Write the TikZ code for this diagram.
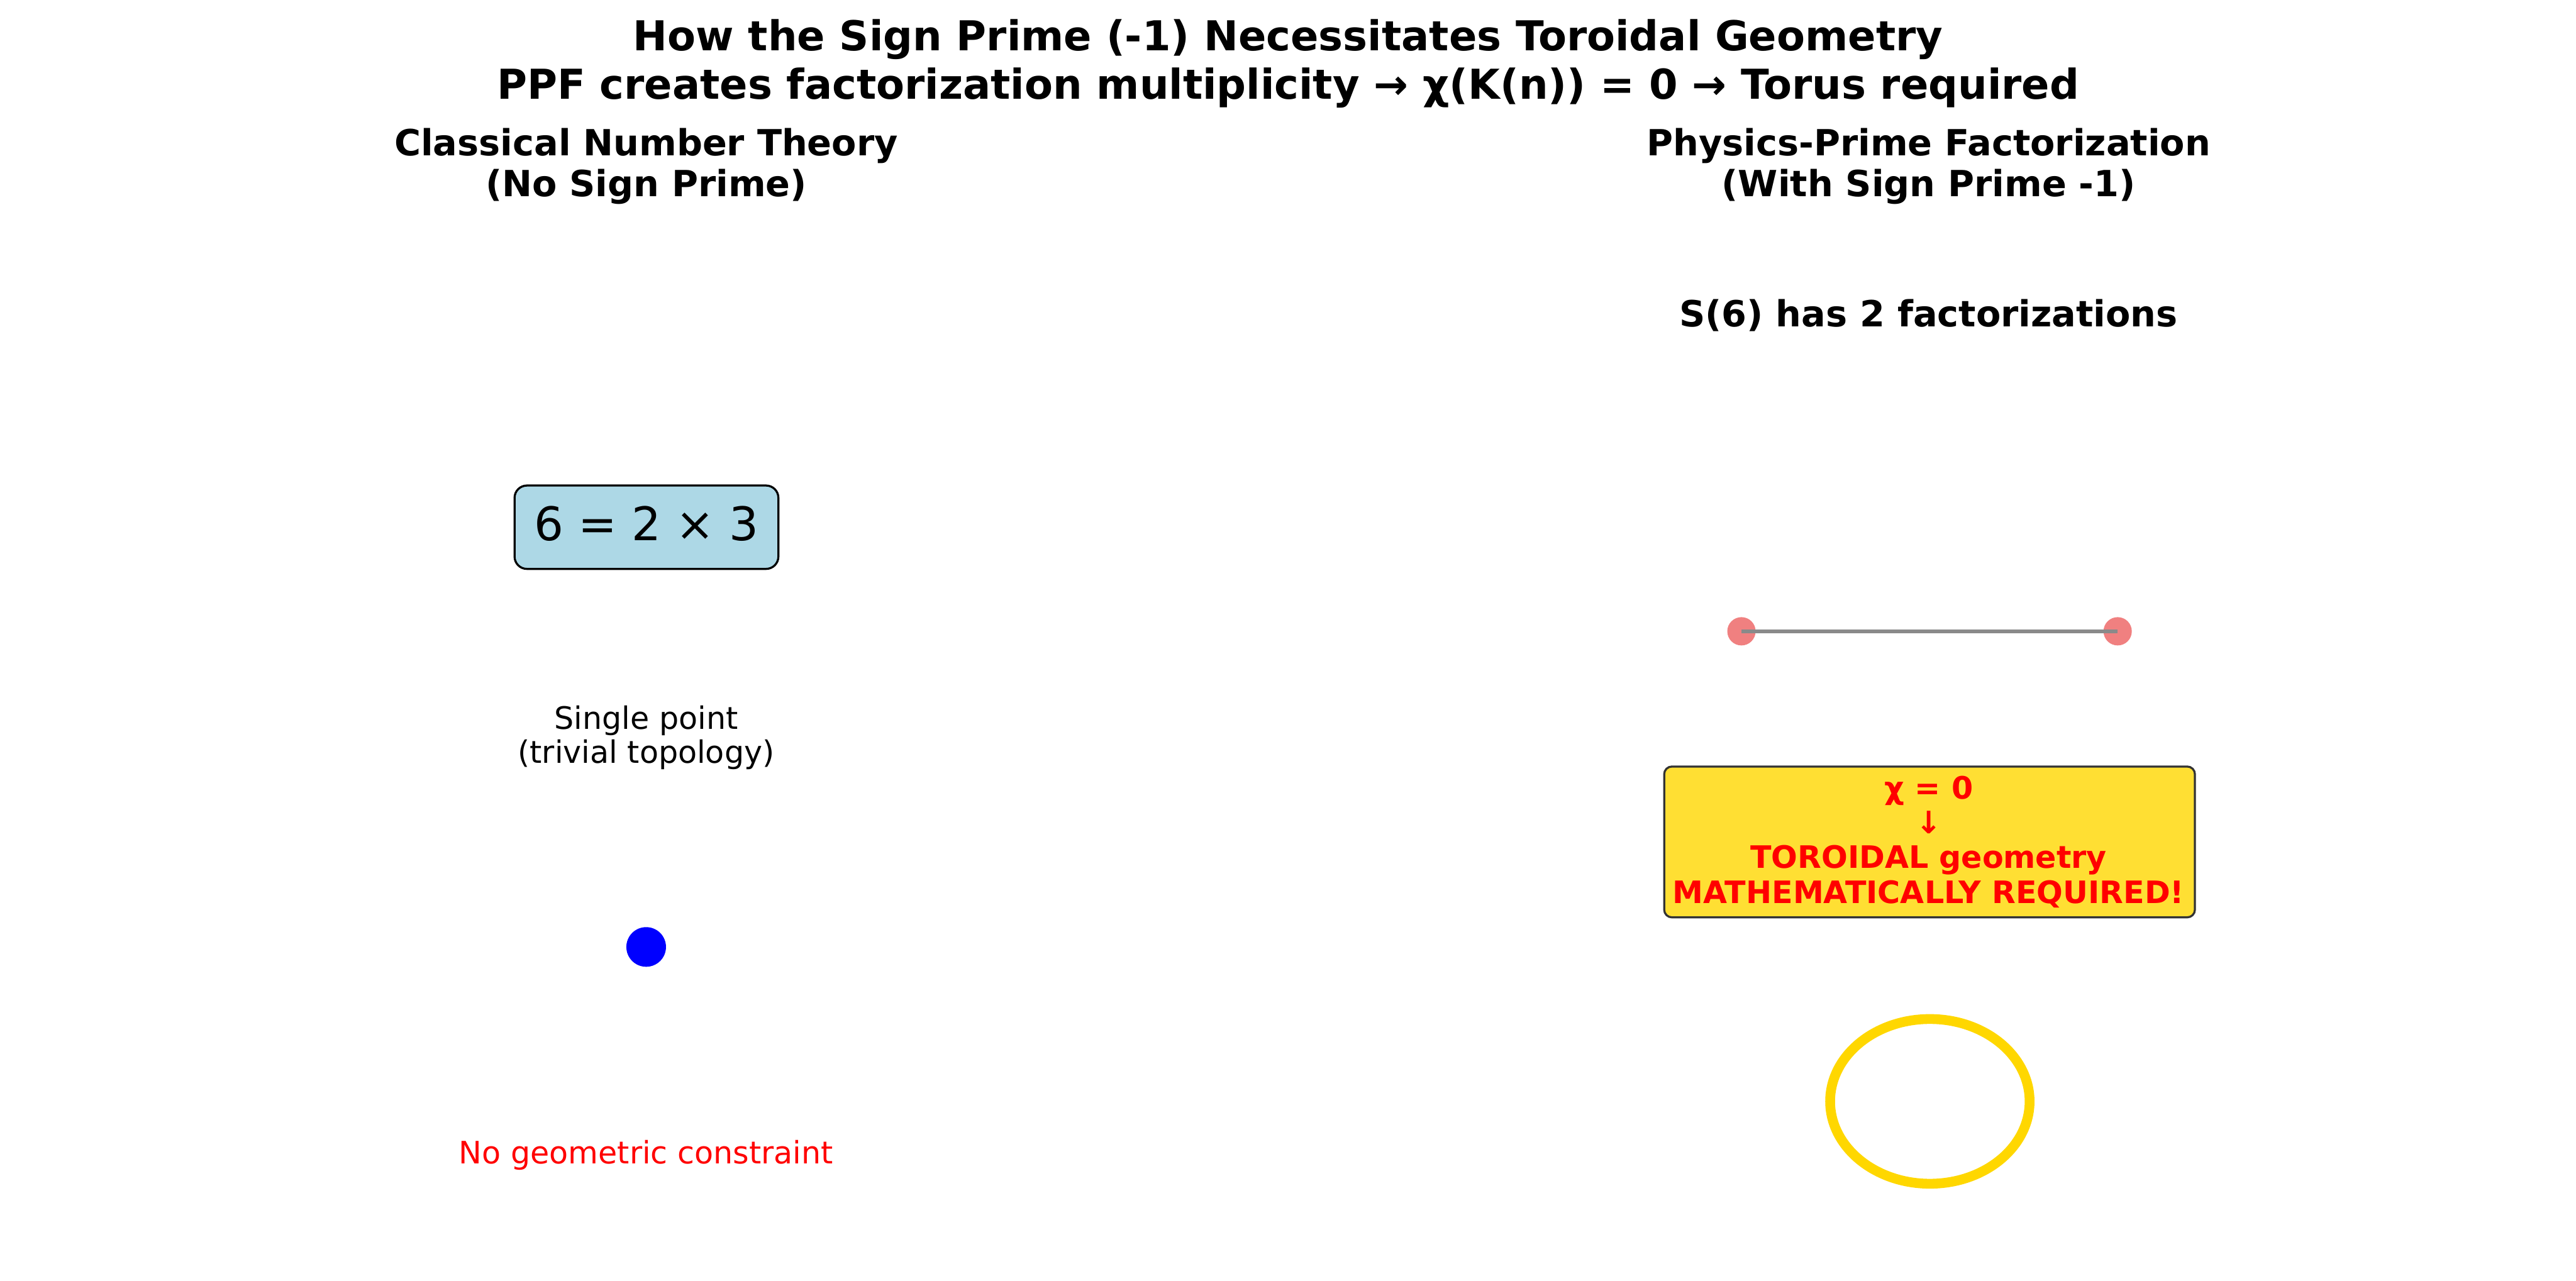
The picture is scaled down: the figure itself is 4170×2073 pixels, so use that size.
\documentclass[tikz,border=0pt]{standalone}
\usepackage{fontspec}
\usetikzlibrary{shapes.geometric}
\setmainfont{DejaVu Sans}
\definecolor{lblue}{HTML}{ADD8E6}
\definecolor{yfill}{HTML}{FFDF33}
\definecolor{yedge}{HTML}{333333}
\definecolor{lcoral}{HTML}{F08080}
\definecolor{lgray}{HTML}{8A8A8A}
\definecolor{gold}{HTML}{FFD700}
\begin{document}
\begin{tikzpicture}[x=0.24pt,y=-0.24pt,
  txt/.style={inner sep=0pt,anchor=base},
  ttl/.style={txt,font=\fontsize{16}{19}\selectfont\bfseries},
  sub/.style={txt,font=\fontsize{14}{17}\selectfont\bfseries},
  lbl/.style={txt,font=\fontsize{12}{14}\selectfont},
  warn/.style={txt,text=red,font=\fontsize{12}{14}\selectfont\bfseries}]
\useasboundingbox (0,0) rectangle (4170,2073);
% titles
\node[ttl] (t1) at (2085,82) {How the Sign Prime (-1) Necessitates Toroidal Geometry};
\node[ttl] (t2) at (2085,160) {PPF creates factorization multiplicity → χ(K(n)) = 0 → Torus required};
% left panel
\node[sub] (l1) at (1046,252) {Classical Number Theory};
\node[sub] (l2) at (1046,318) {(No Sign Prime)};
\node[draw=black,line width=0.8pt,fill=lblue,rounded corners=4.8pt,
      minimum width=102.5pt,minimum height=32.4pt,inner sep=0pt] (eq) at (1046.5,853.5) {};
\node[txt,font=\fontsize{18}{22}\selectfont] (eqt) at (1046.5,875) {6 = 2 × 3};
\node[lbl] (sp1) at (1046,1180) {Single point};
\node[lbl] (sp2) at (1046,1235) {(trivial topology)};
\node[circle,fill=blue,minimum size=15.4pt,inner sep=0pt] (pt) at (1046,1533) {};
\node[lbl,text=red] (ngc) at (1046,1884) {No geometric constraint};
% right panel
\node[sub] (r1) at (3122,252) {Physics-Prime Factorization};
\node[sub] (r2) at (3122,318) {(With Sign Prime -1)};
\node[sub] (s6) at (3122,529) {S(6) has 2 factorizations};
\node[circle,fill=lcoral,minimum size=11pt,inner sep=0pt] (fa) at (2819,1022) {};
\node[circle,fill=lcoral,minimum size=11pt,inner sep=0pt] (fb) at (3428,1022) {};
\draw[lgray,line width=1.5pt] (fa.center) -- (fb.center);
\node[draw=yedge,line width=0.8pt,fill=yfill,rounded corners=3pt,
      minimum width=206.2pt,minimum height=58.6pt,inner sep=0pt] (yb) at (3123.5,1363) {};
\node[warn] (w1) at (3122,1293) {χ = 0};
\node[warn] (w2) at (3122,1349) {↓};
\node[warn] (w3) at (3122,1405) {TOROIDAL geometry};
\node[warn] (w4) at (3122,1462) {MATHEMATICALLY REQUIRED!};
\node[draw=gold,line width=3.8pt,ellipse,minimum width=77.5pt,minimum height=64pt,inner sep=0pt] (tor) at (3124,1783) {};
\end{tikzpicture}
\end{document}
